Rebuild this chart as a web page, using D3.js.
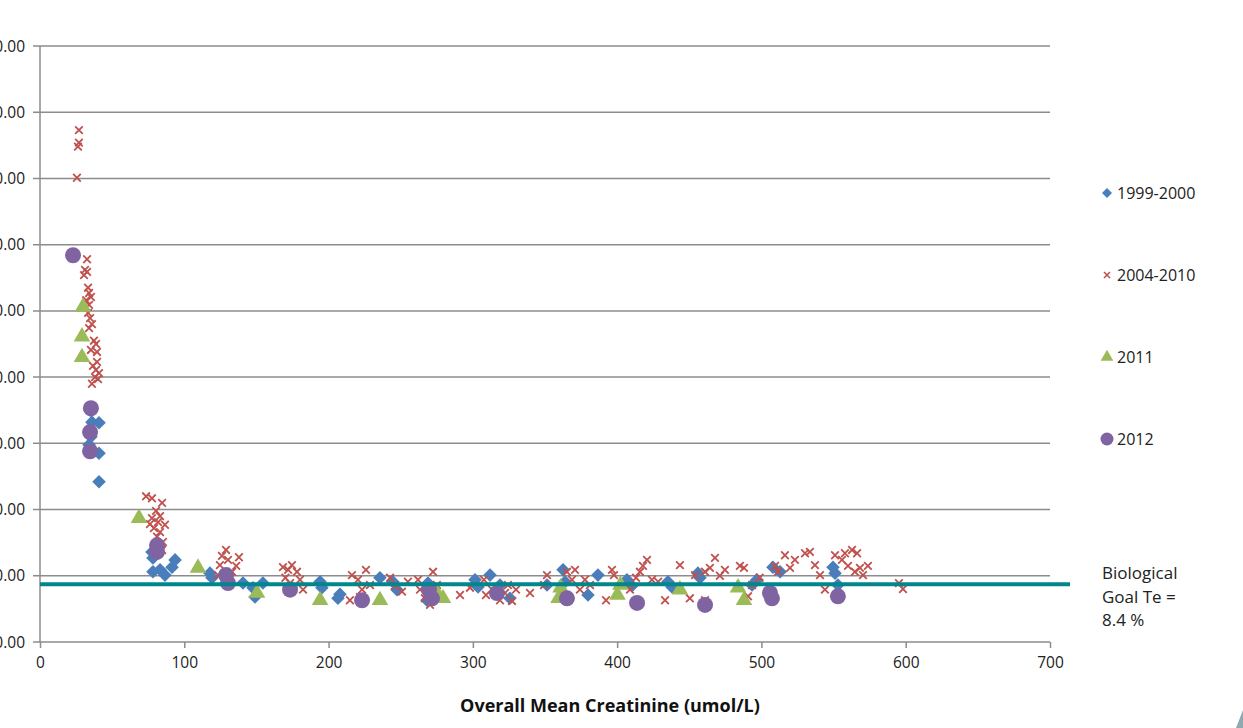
<!DOCTYPE html>
<html>
<head>
<meta charset="utf-8">
<script src="https://cdn.jsdelivr.net/npm/d3@7"></script>
<style>
  body { margin: 0; background: #fff; }
  svg { display: block; font-family: "Open Sans", sans-serif; }
</style>
</head>
<body>
<svg id="chart" width="1243" height="728"></svg>
<script>
// ticks
const xTicks = [0, 100, 200, 300, 400, 500, 600, 700];
const yTicks = [0, 10, 20, 30, 40, 50, 60, 70, 80, 90];
const goal = 8.4;

// 1999-2000 [creatinine, Te]
const s1999 = [
  [34.7, 35.0], [36.0, 33.2], [40.9, 33.1], [35.3, 31.0], [34.0, 29.8], [40.9, 28.5], [40.9, 24.2],
  [77.6, 13.6], [78.3, 12.7], [78.3, 10.6], [86.6, 10.1], [91.5, 11.3], [93.6, 12.4], [83.2, 10.9],
  [117.8, 10.4], [119.2, 9.7], [140.7, 8.9], [147.6, 8.2], [149.0, 6.8], [154.5, 8.9],
  [194.1, 9.1], [195.4, 8.2], [206.5, 6.6], [207.9, 7.2], [235.6, 9.7], [244.6, 9.1], [247.4, 7.9],
  [268.9, 8.9], [270.3, 7.9], [268.2, 6.3], [301.5, 9.4], [303.6, 8.3], [311.9, 10.1], [318.8, 8.6],
  [325.7, 6.6], [351.4, 8.6], [362.5, 10.9], [363.9, 9.1], [379.8, 7.1], [386.7, 10.1], [406.8, 9.4],
  [410.3, 8.5], [435.2, 9.1], [438.0, 8.3], [456.0, 10.4], [457.4, 9.7], [496.9, 9.4], [493.5, 8.6],
  [508.0, 11.3], [512.9, 10.6], [549.6, 11.3], [551.0, 10.4], [553.0, 8.6]
];

// 2004-2010
const s2004 = [
  [27.0, 77.3], [27.0, 75.4], [26.3, 74.8], [25.6, 70.1],
  [32.6, 57.8], [31.2, 56.2], [30.5, 55.4], [32.6, 55.9], [33.3, 53.5], [34.0, 52.7], [35.3, 52.1],
  [32.0, 51.6], [34.0, 50.9], [33.3, 49.7], [34.7, 48.9], [36.0, 48.0], [34.0, 47.4], [37.4, 45.5],
  [38.8, 45.0], [35.3, 44.1], [39.5, 43.8], [39.5, 42.3], [36.7, 41.7], [38.8, 41.1], [40.9, 40.6],
  [38.1, 40.0], [40.2, 39.7], [36.0, 39.0],
  [73.5, 22.0], [77.6, 21.7], [84.6, 21.0], [80.4, 19.8], [83.2, 19.0], [77.6, 18.7], [81.8, 18.1],
  [79.0, 17.2], [83.2, 16.6], [81.1, 15.9], [85.2, 15.1], [76.2, 17.8], [86.6, 17.7], [84.6, 13.9],
  [128.9, 13.9], [126.1, 13.0], [130.3, 12.4], [124.7, 11.6], [137.9, 12.8], [136.0, 11.5],
  [133.1, 10.6], [123.4, 10.1],
  [168.4, 11.3], [172.0, 10.9], [174.6, 11.6], [178.1, 10.6], [170.1, 9.7], [180.2, 9.4],
  [173.3, 8.9], [182.3, 7.9],
  [216.2, 10.1], [220.4, 9.4], [225.9, 10.9], [223.2, 7.9], [221.8, 6.8], [228.7, 8.6], [214.8, 6.3],
  [242.6, 9.7], [246.0, 8.5], [250.9, 7.6], [255.0, 9.1],
  [262.0, 9.4], [263.4, 7.9], [266.8, 6.6], [272.4, 10.6], [275.1, 8.6], [270.3, 5.6], [273.8, 7.1],
  [291.1, 7.1], [298.0, 8.2], [307.7, 9.4], [309.1, 7.1], [313.3, 7.9], [318.8, 6.3], [322.3, 7.4],
  [324.3, 8.6], [327.1, 6.2], [329.9, 7.9],
  [339.6, 7.4], [349.3, 8.6], [351.4, 10.1], [360.4, 7.6],
  [365.2, 10.6], [368.7, 9.4], [370.8, 10.9], [374.2, 7.9], [377.7, 9.4], [381.2, 8.6],
  [392.3, 6.3], [396.4, 10.9], [397.8, 10.1], [408.9, 7.9], [413.1, 9.7], [415.8, 10.6], [417.9, 11.5],
  [420.7, 12.4], [424.1, 9.4], [428.4, 9.1],
  [433.2, 6.3], [443.5, 11.6], [450.4, 6.6], [454.0, 10.1], [460.9, 10.6], [464.3, 11.2], [467.8, 12.7],
  [471.2, 10.0], [474.7, 10.9], [460.9, 6.3],
  [485.1, 11.5], [487.9, 11.2], [490.7, 6.9], [493.5, 8.6], [498.7, 9.7], [509.4, 11.5], [511.5, 10.6],
  [516.3, 13.1], [519.8, 11.2], [523.2, 12.4], [530.2, 13.4], [533.6, 13.6], [537.1, 11.6], [540.6, 10.1],
  [544.0, 7.9], [551.0, 13.1], [555.8, 12.4], [557.9, 13.4], [560.0, 11.5], [562.8, 13.9], [566.3, 13.4],
  [568.3, 11.2], [570.4, 10.1], [573.8, 11.5], [564.8, 10.6],
  [595.3, 8.9], [598.1, 8.0]
];

// 2011
const s2011 = [
  [29.8, 50.6], [29.1, 46.1], [29.1, 43.0], [68.6, 18.7], [109.5, 11.2], [150.4, 7.4], [194.1, 6.3],
  [235.6, 6.3], [275.1, 7.4], [279.3, 6.6], [359.4, 6.6], [360.8, 8.2], [400.2, 7.1], [402.3, 8.6],
  [443.5, 7.9], [483.8, 8.2], [487.9, 6.3]
];

// 2012
const s2012 = [
  [22.9, 58.4], [35.3, 35.3], [34.7, 31.7], [34.7, 28.8], [81.1, 14.6], [81.1, 13.6], [128.9, 10.1],
  [130.3, 8.9], [173.3, 7.9], [223.2, 6.3], [269.6, 7.9], [271.7, 6.6], [316.7, 7.4], [365.2, 6.6],
  [413.8, 5.9], [460.9, 5.6], [505.9, 7.4], [507.3, 6.6], [553.0, 6.9]
];

const svg = d3.select('#chart');

const x = d3.scaleLinear().domain([0, 700]).range([40, 1050]);
const y = d3.scaleLinear().domain([0, 90]).range([642, 46]);

// gridlines
svg.append('g')
  .selectAll('line')
  .data(yTicks)
  .join('line')
  .attr('x1', 33).attr('x2', 1050)
  .attr('y1', d => y(d)).attr('y2', d => y(d))
  .attr('stroke', '#8c8c8c').attr('stroke-width', 1.5);

// y labels (cut off at the left edge like the source slide)
svg.append('g')
  .selectAll('text')
  .data(yTicks)
  .join('text')
  .attr('x', 25).attr('y', d => y(d) + 5.5)
  .attr('text-anchor', 'end')
  .attr('font-size', 15.5)
  .attr('fill', '#222')
  .text(d => d.toFixed(2));

// y axis line
svg.append('line')
  .attr('x1', 40).attr('x2', 40).attr('y1', 46).attr('y2', 642)
  .attr('stroke', '#8c8c8c').attr('stroke-width', 1.5);

// x axis
const xAxis = svg.append('g')
  .attr('transform', 'translate(0,642)')
  .call(d3.axisBottom(x).tickValues(xTicks).tickSize(6).tickPadding(9).tickFormat(d3.format('d')));
xAxis.select('.domain').remove();
xAxis.selectAll('line').attr('stroke', '#8c8c8c').attr('stroke-width', 1.5);
xAxis.selectAll('text').attr('font-size', 15.5).attr('fill', '#222')
  .style('font-family', '"Open Sans", sans-serif');

svg.append('text')
  .attr('x', 610).attr('y', 712)
  .attr('text-anchor', 'middle')
  .attr('font-size', 18).attr('font-weight', 'bold').attr('fill', '#111')
  .text('Overall Mean Creatinine (umol/L)');

// points
const plot = svg.append('g');

plot.append('g').selectAll('path')
  .data(s1999)
  .join('path')
  .attr('d', d3.symbol(d3.symbolSquare, 92))
  .attr('transform', d => `translate(${x(d[0])},${y(d[1])}) rotate(45)`)
  .attr('fill', '#4a7ebb');

const cross = 'M-3.8,-3.8L3.8,3.8M-3.8,3.8L3.8,-3.8';
plot.append('g').selectAll('path')
  .data(s2004)
  .join('path')
  .attr('d', cross)
  .attr('transform', d => `translate(${x(d[0])},${y(d[1])})`)
  .attr('stroke', '#c0504d').attr('stroke-width', 1.8).attr('fill', 'none');

plot.append('g').selectAll('path')
  .data(s2011)
  .join('path')
  .attr('d', d3.symbol(d3.symbolTriangle, 120))
  .attr('transform', d => `translate(${x(d[0])},${y(d[1])})`)
  .attr('fill', '#9bbb59');

plot.append('g').selectAll('circle')
  .data(s2012)
  .join('circle')
  .attr('cx', d => x(d[0])).attr('cy', d => y(d[1]))
  .attr('r', 8)
  .attr('fill', '#8064a2');

// biological goal line
svg.append('line')
  .attr('x1', 40).attr('x2', 1070)
  .attr('y1', y(goal) - 2).attr('y2', y(goal) - 2)
  .attr('stroke', '#00868b').attr('stroke-width', 4);

const goalText = svg.append('text').attr('font-size', 17).attr('fill', '#222');
['Biological', 'Goal Te =', '8.4 %'].forEach((t, i) => {
  goalText.append('tspan').attr('x', 1102).attr('y', 579 + i * 23.5).text(t);
});

// legend
const series = ['1999-2000', '2004-2010', '2011', '2012'];
const legend = svg.append('g').selectAll('g')
  .data(series)
  .join('g')
  .attr('transform', (d, i) => `translate(1107,${193 + i * 82})`);

legend.each(function (d, i) {
  const g = d3.select(this);
  if (i === 0) g.append('path').attr('d', d3.symbol(d3.symbolSquare, 50)).attr('transform', 'rotate(45)').attr('fill', '#4a7ebb');
  if (i === 1) g.append('path').attr('d', 'M-3,-3L3,3M-3,3L3,-3').attr('stroke', '#c0504d').attr('stroke-width', 1.5);
  if (i === 2) g.append('path').attr('d', d3.symbol(d3.symbolTriangle, 70)).attr('fill', '#9bbb59');
  if (i === 3) g.append('circle').attr('r', 6.5).attr('fill', '#8064a2');
  g.append('text').attr('x', 10).attr('y', 5.5).attr('font-size', 16).attr('fill', '#222').text(d);
});

// slide decoration corner
svg.append('path')
  .attr('d', 'M1236,728L1243,710L1243,728Z')
  .attr('fill', '#8fa9ae');
</script>
</body>
</html>
